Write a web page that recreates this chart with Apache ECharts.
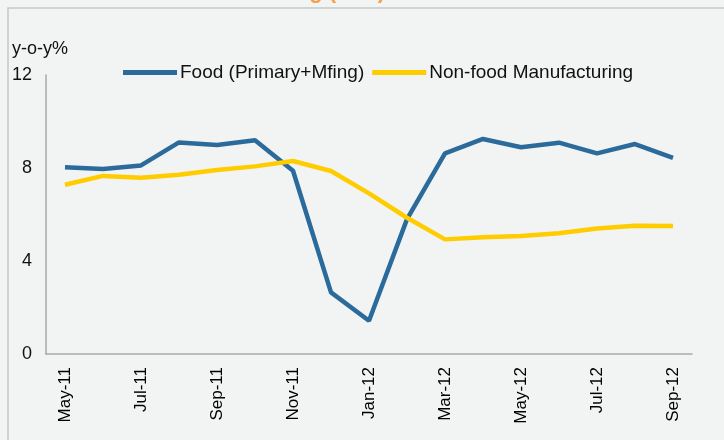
<!DOCTYPE html>
<html>
<head>
<meta charset="utf-8">
<script src="https://cdn.jsdelivr.net/npm/echarts@6/dist/echarts.min.js"></script>
<style>
  html, body { margin: 0; padding: 0; background: #f2f4f3; }
  #chart { width: 724px; height: 440px; }
</style>
</head>
<body>
<div id="chart"></div>
<script>
// months on the x axis
var months = ['May-11', 'Jun-11', 'Jul-11', 'Aug-11', 'Sep-11', 'Oct-11', 'Nov-11', 'Dec-11',
  'Jan-12', 'Feb-12', 'Mar-12', 'Apr-12', 'May-12', 'Jun-12', 'Jul-12', 'Aug-12', 'Sep-12'];

// y-o-y % inflation
var food = [8.03, 7.96, 8.11, 9.10, 8.99, 9.19, 7.88, 2.65, 1.43, 5.8, 8.63, 9.25, 8.89, 9.09, 8.63, 9.03, 8.44];
var nonFood = [7.28, 7.66, 7.58, 7.71, 7.91, 8.07, 8.30, 7.87, 6.91, 5.86, 4.93, 5.02, 5.08, 5.19, 5.40, 5.52, 5.51];

var chartDom = document.getElementById('chart');
var myChart = echarts.init(chartDom);
var font = 'Liberation Sans, Arial, sans-serif';

var option = {
  backgroundColor: '#f2f4f3',
  animation: false,
  graphic: [
    {
      type: 'rect',
      shape: { x: 8, y: 8, width: 800, height: 500 },
      style: { fill: 'none', stroke: '#c6c7c6', lineWidth: 1.5 }
    },
    {
      type: 'text',
      x: 385, y: -8,
      style: {
        text: 'Food vs Non-food Manufacturing (WPI)',
        fill: '#f5a04f',
        font: 'bold 22px ' + font,
        align: 'right',
        verticalAlign: 'middle'
      }
    },
    {
      type: 'text',
      x: 12, y: 40,
      style: { text: 'y-o-y%', fill: '#111', font: '18px ' + font }
    }
  ],
  legend: {
    left: 118,
    top: 58,
    itemWidth: 54,
    itemHeight: 5,
    itemGap: 8,
    icon: 'rect',
    textStyle: { fontSize: 19, fontFamily: font, color: '#111', padding: [0, 0, 0, -2] },
    data: ['Food (Primary+Mfing)', 'Non-food Manufacturing']
  },
  grid: { left: 46, right: 32, top: 75, bottom: 86, containLabel: false },
  xAxis: {
    type: 'category',
    data: months,
    boundaryGap: true,
    axisLine: { lineStyle: { color: '#a9a9a9', width: 1.5 } },
    axisTick: { interval: 1, length: 5, lineStyle: { color: '#a9a9a9', width: 1.5 } },
    axisLabel: {
      interval: 1,
      rotate: 90,
      margin: 13,
      fontSize: 17,
      fontFamily: font,
      color: '#000'
    }
  },
  yAxis: {
    type: 'value',
    min: 0,
    max: 12,
    interval: 4,
    splitLine: { show: false },
    axisLine: { show: true, lineStyle: { color: '#a9a9a9', width: 1.5 } },
    axisTick: { show: false },
    axisLabel: { margin: 14, fontSize: 18, fontFamily: font, color: '#111' }
  },
  series: [
    {
      name: 'Food (Primary+Mfing)',
      type: 'line',
      data: food,
      symbol: 'none',
      lineStyle: { color: '#2b6b9b', width: 4.5 },
      itemStyle: { color: '#2b6b9b' }
    },
    {
      name: 'Non-food Manufacturing',
      type: 'line',
      data: nonFood,
      symbol: 'none',
      lineStyle: { color: '#ffcc00', width: 4.5 },
      itemStyle: { color: '#ffcc00' }
    }
  ]
};
option && myChart.setOption(option);
</script>
</body>
</html>
